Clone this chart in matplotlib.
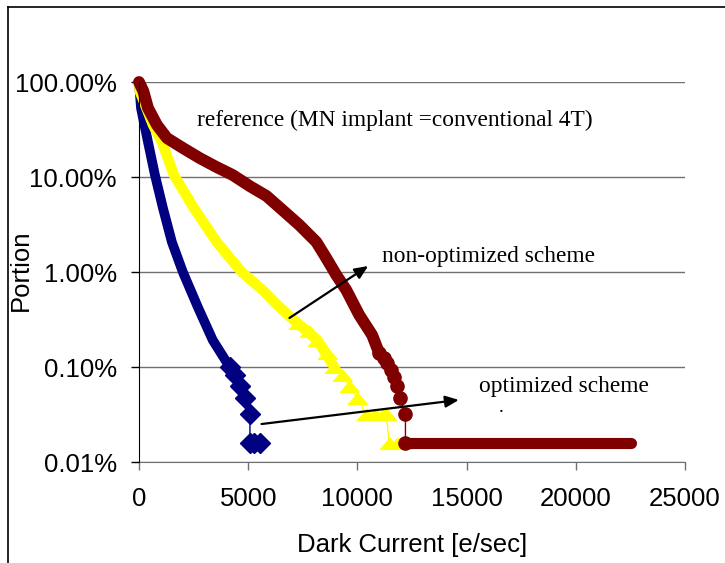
import matplotlib
matplotlib.use("Agg")
import matplotlib.pyplot as plt
from matplotlib.ticker import FixedLocator, FuncFormatter
from matplotlib.lines import Line2D

# ---------------- data (Dark current [e/sec], Portion [%]) ----------------
# optimized scheme (navy diamonds)
blue_dense_x = [0, 91, 411, 730, 1095, 1505, 2007, 2692, 3376, 4151]
blue_dense_y = [100, 53.2, 23.4, 10.5, 4.72, 2.07, 1.0, 0.428, 0.192, 0.100]
blue_tail_x = [4151, 4400, 4608, 4836, 5080, 5080, 5250, 5560]
blue_tail_y = [0.100, 0.082, 0.0635, 0.0476, 0.0317, 0.0159, 0.0159, 0.0159]

# non-optimized scheme (yellow triangles)
yel_dense_x = [0, 46, 639, 1049, 1597, 2509, 3558, 4699, 5657, 6432, 6980, 8166, 8942]
yel_dense_y = [100, 78.5, 35.3, 23.4, 10.5, 4.72, 2.07, 1.0, 0.647, 0.428, 0.328, 0.192, 0.100]
yel_tail_x = [7300, 7800, 8166, 8600, 8942, 9300, 9626, 9991, 10400, 10800, 11150, 11330, 11450, 11800, 12050]
yel_tail_y = [0.29, 0.24, 0.192, 0.14, 0.100, 0.082, 0.0635, 0.0476, 0.0317, 0.0317, 0.0317, 0.0317,
              0.0159, 0.0159, 0.0159]

# reference (dark red circles)
red_dense_x = [0, 200, 411, 821, 1277, 2007, 2783, 3559, 4288, 5064, 5839, 6569, 7345, 8120,
               8576, 9033, 9489, 10082, 10675, 10995]
red_dense_y = [100, 80, 53.2, 35.3, 25.7, 20.2, 15.8, 12.7, 10.5, 8.04, 6.31, 4.49, 3.12, 2.07,
               1.40, 0.93, 0.647, 0.353, 0.217, 0.140]
red_tail_x = [10995, 11200, 11360, 11520, 11679, 11816, 11952, 12200, 12200]
red_tail_y = [0.140, 0.125, 0.110, 0.094, 0.0785, 0.0635, 0.0476, 0.0317, 0.0159]
red_floor_x = [12260, 22536]
red_floor_y = [0.0159, 0.0159]

x_ticks = [0, 5000, 10000, 15000, 20000, 25000]
y_ticks = [0.01, 0.1, 1, 10, 100]

NAVY = "#000080"
YEL = "#FFFF00"
RED = "#800000"

fig = plt.figure(figsize=(7.25, 5.63), dpi=100)
ax = fig.add_axes([139 / 725, 1 - 462 / 563, (685 - 139) / 725, (462 - 82) / 563])

# figure frame (left and top lines)
fig.add_artist(Line2D([8 / 725, 8 / 725], [0, 1 - 7 / 563], transform=fig.transFigure,
                      color="black", lw=1.2))
fig.add_artist(Line2D([8 / 725, 1], [1 - 7 / 563, 1 - 7 / 563], transform=fig.transFigure,
                      color="black", lw=1.2))

ax.set_yscale("log")
ax.set_xlim(0, 25000)
ax.set_ylim(0.01, 100)

# grid
for v in y_ticks:
    ax.axhline(v, color="#707070", lw=1.0, zorder=1)

band = dict(solid_capstyle="round", solid_joinstyle="round", zorder=3, clip_on=False)
tri = [(-1, -0.6), (1, -0.6), (0, 0.6)]

# blue
ax.plot(blue_dense_x, blue_dense_y, color=NAVY, lw=7, **band)
ax.plot(blue_tail_x, blue_tail_y, color=NAVY, lw=1, marker="D", ms=10,
        mec=NAVY, mfc=NAVY, zorder=3)
# yellow
ax.plot(yel_dense_x, yel_dense_y, color=YEL, lw=7.5, **band)
ax.plot(yel_tail_x, yel_tail_y, color=YEL, lw=1, marker=tri, ms=14,
        mec=YEL, mfc=YEL, zorder=3)
# red
band_r = dict(band)
band_r["zorder"] = 4
ax.plot(red_dense_x, red_dense_y, color=RED, lw=8.5, **band_r)
ax.plot(red_tail_x, red_tail_y, color=RED, lw=1, marker="o", ms=9.5,
        mec=RED, mfc=RED, zorder=4)
ax.plot(red_floor_x, red_floor_y, color=RED, lw=8, solid_capstyle="round", zorder=4)

# axes styling
for s in ["top", "right"]:
    ax.spines[s].set_visible(False)
ax.spines["left"].set_color("black")
ax.spines["bottom"].set_color("#707070")
ax.spines["left"].set_zorder(5)

ax.xaxis.set_major_locator(FixedLocator(x_ticks))
ax.yaxis.set_major_locator(FixedLocator(y_ticks))
ax.yaxis.set_minor_locator(FixedLocator([]))
ax.yaxis.set_major_formatter(FuncFormatter(lambda v, p: f"{v:.2f}%"))
ax.xaxis.set_major_formatter(FuncFormatter(lambda v, p: f"{int(v)}"))

sans = "Liberation Sans"
serif = "Liberation Serif"
ax.tick_params(axis="both", direction="out", length=6, width=1.0, labelsize=18.5)
ax.tick_params(axis="x", color="#707070", pad=12)
ax.tick_params(axis="y", color="black", pad=10)
for lab in ax.get_xticklabels() + ax.get_yticklabels():
    lab.set_fontfamily(sans)

ax.set_xlabel("Dark Current [e/sec]", fontsize=18.5, family=sans, labelpad=16)
ax.set_ylabel("Portion", fontsize=18.5, family=sans)
ax.yaxis.set_label_coords((33 - 139) / 546, (462 - 270) / 380)

# annotations
ax.text(2646, 39.8, "reference (MN implant =conventional 4T)", family=serif,
        fontsize=16.8, va="center", ha="left", zorder=6)
ax.text(11131, 1.44, "non-optimized scheme", family=serif, fontsize=16.8,
        va="center", ha="left", zorder=6)
ax.text(15556, 0.0616, "optimized scheme", family=serif, fontsize=16.8,
        va="center", ha="left", zorder=6)
ax.text(16560, 0.034, ".", family=serif, fontsize=14, va="baseline", ha="center", zorder=6)

arrow = dict(arrowstyle="-|>,head_length=0.8,head_width=0.35", color="black", lw=1.6,
             shrinkA=0, shrinkB=0)
ax.annotate("", xy=(10493, 1.156), xytext=(6888, 0.328), arrowprops=arrow, zorder=6)
ax.annotate("", xy=(14644, 0.045), xytext=(5611, 0.0251), arrowprops=arrow, zorder=6)

fig.savefig("out.png", dpi=100)
